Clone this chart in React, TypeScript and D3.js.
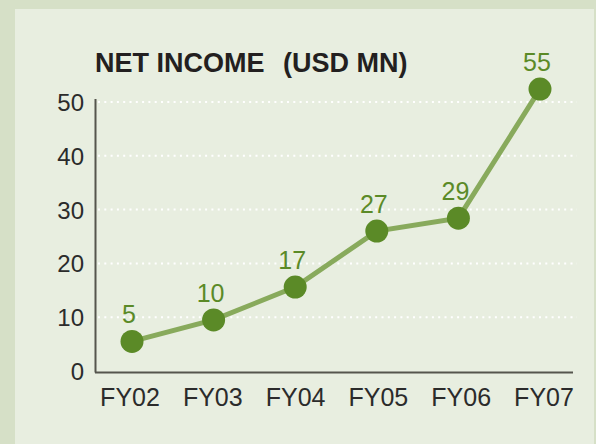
import React, { useEffect, useRef } from 'react';
import * as d3 from 'd3';

const categories = ['FY02', 'FY03', 'FY04', 'FY05', 'FY06', 'FY07'];
// plotted positions
const values = [5.5, 9.5, 15.6, 26.0, 28.4, 52.4];
// printed value labels
const valueLabels = ['5', '10', '17', '27', '29', '55'];
const yTicks = [0, 10, 20, 30, 40, 50];

const App: React.FC = () => {
    const svgRef = useRef<SVGSVGElement>(null);

    useEffect(() => {
        if (!svgRef.current) return;
        const width = 596;
        const height = 444;

        const svg = d3.select(svgRef.current);
        svg.selectAll('*').remove();
        svg.attr('width', width).attr('height', height);

        // Backgrounds
        svg.append('rect').attr('width', width).attr('height', height).attr('fill', '#d6e0c7');
        svg.append('rect')
            .attr('x', 15).attr('y', 9)
            .attr('width', 579).attr('height', height - 9)
            .attr('fill', '#e8eee0');

        const x = d3.scalePoint<string>().domain(categories).range([132, 540]);
        const y = d3.scaleLinear().domain([0, 50]).range([371, 102]);
        const font = "'Liberation Sans', Arial, sans-serif";

        // Title
        svg.append('text')
            .attr('x', 95).attr('y', 72)
            .attr('font-family', font).attr('font-weight', 'bold')
            .attr('font-size', 27).attr('fill', '#231f20')
            .text('NET INCOME');
        svg.append('text')
            .attr('x', 283).attr('y', 72)
            .attr('font-family', font).attr('font-weight', 'bold')
            .attr('font-size', 27).attr('fill', '#231f20')
            .text('(USD MN)');

        // Grid lines (dotted white)
        svg.append('g')
            .selectAll('line')
            .data(yTicks.filter(t => t > 0))
            .enter()
            .append('line')
            .attr('x1', 98).attr('x2', 577)
            .attr('y1', d => y(d)).attr('y2', d => y(d))
            .attr('stroke', '#ffffff')
            .attr('stroke-width', 2)
            .attr('stroke-dasharray', '2 4.3');

        // Axes
        svg.append('line')
            .attr('x1', 95.5).attr('x2', 95.5)
            .attr('y1', 99).attr('y2', 372.5)
            .attr('stroke', '#55554d').attr('stroke-width', 2);
        svg.append('line')
            .attr('x1', 95).attr('x2', 573)
            .attr('y1', 372.5).attr('y2', 372.5)
            .attr('stroke', '#55554d').attr('stroke-width', 2);

        // Y tick labels
        svg.append('g')
            .selectAll('text')
            .data(yTicks)
            .enter()
            .append('text')
            .attr('x', 84)
            .attr('y', d => y(d) + 9)
            .attr('text-anchor', 'end')
            .attr('font-family', font)
            .attr('font-size', 24)
            .attr('fill', '#2b2b2b')
            .text(d => d);

        // X tick labels
        svg.append('g')
            .selectAll('text')
            .data(categories)
            .enter()
            .append('text')
            .attr('x', (d, i) => (x(d) as number) - 2 + i * 1.2)
            .attr('y', 406)
            .attr('text-anchor', 'middle')
            .attr('font-family', font)
            .attr('font-size', 25)
            .attr('fill', '#2b2b2b')
            .text(d => d);

        // Line
        const line = d3.line<number>()
            .x((d, i) => x(categories[i]) as number)
            .y(d => y(d));
        svg.append('path')
            .datum(values)
            .attr('d', line)
            .attr('fill', 'none')
            .attr('stroke', '#88aa5c')
            .attr('stroke-width', 5);

        // Dots
        svg.append('g')
            .selectAll('circle')
            .data(values)
            .enter()
            .append('circle')
            .attr('cx', (d, i) => x(categories[i]) as number)
            .attr('cy', d => y(d))
            .attr('r', 11.5)
            .attr('fill', '#5b8a27');

        // Value labels
        svg.append('g')
            .selectAll('text')
            .data(values)
            .enter()
            .append('text')
            .attr('x', (d, i) => (x(categories[i]) as number) - 3)
            .attr('y', d => y(d) - 18)
            .attr('text-anchor', 'middle')
            .attr('font-family', font)
            .attr('font-size', 25)
            .attr('fill', '#5b8a27')
            .text((d, i) => valueLabels[i]);
    }, []);

    return (
        <div style={{ position: 'fixed', left: 0, top: 0 }}>
            <svg ref={svgRef} style={{ display: 'block' }}></svg>
        </div>
    );
};

export default App;
